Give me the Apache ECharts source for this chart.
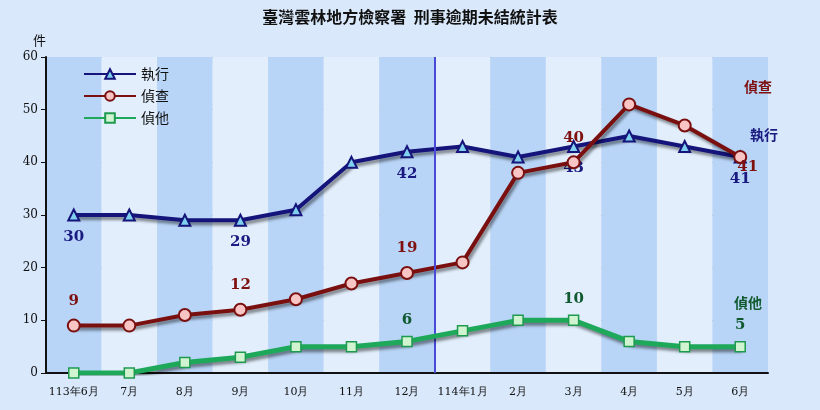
<!DOCTYPE html><html><head><meta charset="utf-8">
<script src="https://cdn.jsdelivr.net/npm/echarts@6/dist/echarts.min.js"></script>
<style>html,body{margin:0;padding:0;background:#d9e8fb}#c{width:820px;height:410px}</style></head>
<body><div id="c"></div><script>
const categories=['113年6月','7月','8月','9月','10月','11月','12月','114年1月','2月','3月','4月','5月','6月'];
const zhixing=[30,30,29,29,31,40,42,43,41,43,45,43,41];
const zhencha=[9,9,11,12,14,17,19,21,38,40,51,47,41];
const zhenta=[0,0,2,3,5,5,6,8,10,10,6,5,5];
const yTicks=[0,10,20,30,40,50,60];
const zxLabels={0:'bottom',3:'bottom',6:'bottom',9:'bottom',12:'bottom'};
const zcLabels={0:'top',3:'top',6:'top',9:'top',12:[4,10]};
const ztLabels={6:'top',9:'top',12:'top'};
const font='"Noto Sans CJK TC", serif';
function mk(vals,map,color,dist){return vals.map((v,i)=>map[i]?{value:v,label:{show:true,position:map[i],distance:dist,color:color,fontSize:15,fontWeight:'bold',fontFamily:'"DejaVu Serif", serif'}}:v);}
const chart=echarts.init(document.getElementById('c'));
const shadow={shadowColor:'rgba(0,0,0,0.45)',shadowBlur:3,shadowOffsetX:2,shadowOffsetY:3};
chart.setOption({
 animation:false,backgroundColor:'#d9e8fb',
 title:{text:'臺灣雲林地方檢察署  刑事逾期未結統計表',left:'center',top:4,textStyle:{fontFamily:font,fontSize:16,fontWeight:'bold',color:'#111'}},
 legend:{orient:'vertical',left:78,top:62,itemWidth:52,itemHeight:12,itemGap:8,textStyle:{fontFamily:font,fontSize:14,color:'#111'},data:['執行','偵查','偵他']},
 grid:{left:46,right:52,top:57,bottom:37},
 xAxis:[{type:'category',data:categories,axisTick:{show:false},axisLine:{lineStyle:{color:'#111',width:2}},
   axisLabel:{interval:0,fontFamily:'"DejaVu Serif", serif',fontSize:11,color:'#111',margin:14},
   splitArea:{show:true,interval:0,areaStyle:{color:['#b8d4f6','#e2eefc']}}},
  {type:'value',min:0,max:13,show:false}],
 yAxis:{type:'value',min:0,max:60,interval:10,name:'件',nameGap:10,nameTextStyle:{fontFamily:font,fontSize:13,color:'#111',align:'right'},
  axisLine:{show:true,lineStyle:{color:'#111',width:2}},axisLabel:{fontFamily:'"DejaVu Serif", serif',fontSize:12,color:'#111'},
  splitLine:{lineStyle:{color:'#8c98a8',width:1}}},
 series:[
  {name:'執行',type:'line',data:mk(zhixing,zxLabels,'#1a1a80',8),lineStyle:{color:'#14147a',width:4,...shadow},symbol:'triangle',symbolSize:11,itemStyle:{color:'#80d0f0',borderColor:'#14147a',borderWidth:2},z:3},
  {name:'偵查',type:'line',data:mk(zhencha,zcLabels,'#7f1010',10),lineStyle:{color:'#7a0f0f',width:4,...shadow},symbol:'circle',symbolSize:12,itemStyle:{color:'#f8c4c4',borderColor:'#7a0f0f',borderWidth:2},z:4},
  {name:'偵他',type:'line',data:mk(zhenta,ztLabels,'#105a30',8),lineStyle:{color:'#1ea85a',width:5,...shadow},symbol:'rect',symbolSize:10,itemStyle:{color:'#d0f4d0',borderColor:'#1e9a50',borderWidth:1.5},z:5},
  {type:'line',xAxisIndex:1,data:[],markLine:{silent:true,symbol:'none',label:{show:false},lineStyle:{color:'#4a4ad8',width:2,type:'solid'},data:[{xAxis:7}]}}
 ],
 graphic:[
  {type:'text',z:100,left:744,top:80,style:{text:'偵查',fill:'#7f1010',font:'bold 14px '+font}},
  {type:'text',z:100,left:750,top:128,style:{text:'執行',fill:'#1a1a80',font:'bold 14px '+font}},
  {type:'text',z:100,left:734,top:296,style:{text:'偵他',fill:'#105a30',font:'bold 14px '+font}}
 ]
});
</script></body></html>
